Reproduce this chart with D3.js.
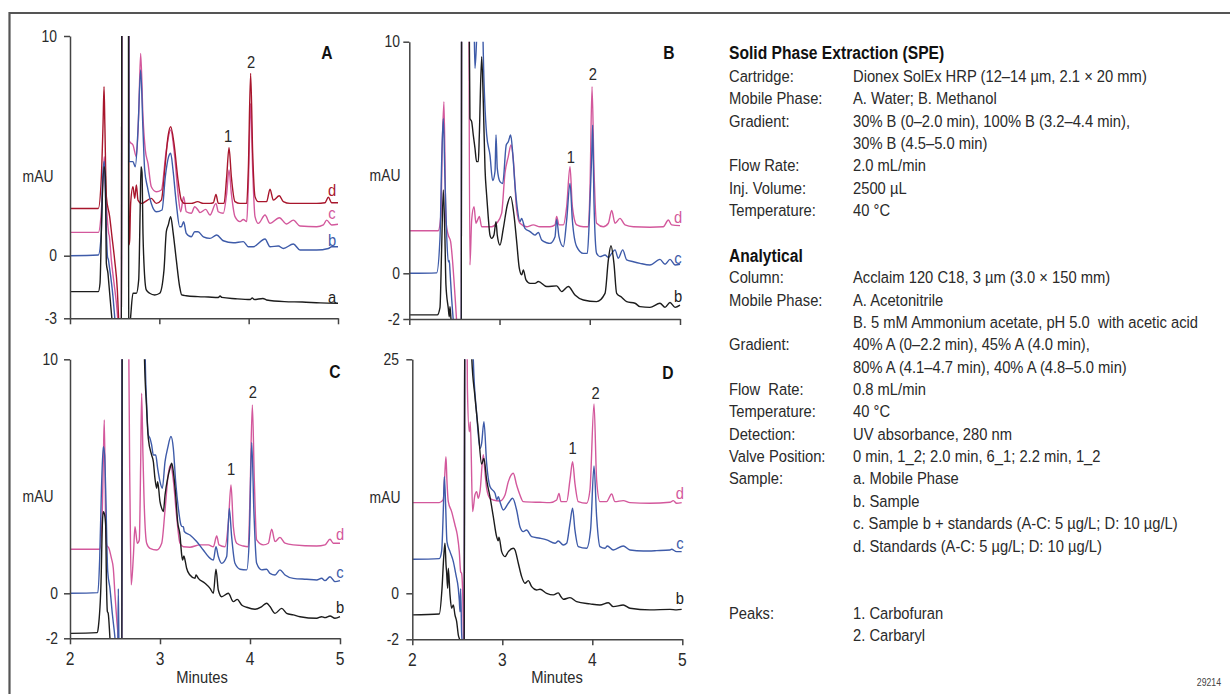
<!DOCTYPE html>
<html><head><meta charset="utf-8">
<script src="https://cdn.jsdelivr.net/npm/d3@7"></script>
<style>
body{margin:0;background:#fff;}
svg{display:block;font-family:"Liberation Sans",Arial,sans-serif;}
</style></head><body>
<svg id="chart" width="1230" height="694"></svg>
<script>
// ---------------- DATA (time in min, absorbance in mAU) ----------------
const xTicks = [2, 3, 4, 5];
const yTicksA = [-3, 0, 10];
const yTicksB = [-2, 0, 10];
const yTicksC = [-2, 0, 10];
const yTicksD = [-2, 0, 25];

// Panel A: a = mobile phase, b = sample, c = sample + standards, d = standards
const A_a = [[2.0,-1.72],[2.317,-1.72],[2.336,-1.32],[2.354,1.62],[2.381,4.05],[2.396,3.60],[2.407,-0.37],[2.425,-0.85],[2.433,-1.24],[2.444,-1.80],[2.47,-3.08],[2.50,-4.5],[2.575,-8],[2.585,40],[2.65,40],[2.658,-6],[2.668,-3.5],[2.679,-2.92],[2.705,-1.80],[2.743,-1.80],[2.769,-1.16],[2.785,2.0],[2.795,4.05],[2.806,3.8],[2.817,1.0],[2.828,-0.37],[2.854,-1.64],[2.892,-1.80],[2.948,-1.88],[3.004,-1.80],[3.052,-0.69],[3.078,1.09],[3.10,1.40],[3.127,1.78],[3.153,1.10],[3.19,-0.2],[3.228,-1.5],[3.25,-1.88],[3.30,-1.92],[3.433,-1.96],[3.55,-1.98],[3.66,-2.0],[3.68,-1.93],[3.70,-2.0],[3.85,-2.06],[4.02,-2.1],[4.04,-2.02],[4.06,-2.1],[4.16,-2.05],[4.2,-2.12],[4.4,-2.2],[4.6,-2.22],[4.8,-2.26],[5.0,-2.28]];
const A_b = [[2.0,0],[2.317,0.03],[2.35,1.0],[2.365,3.5],[2.384,4.3],[2.395,3.0],[2.407,1.17],[2.42,-0.05],[2.43,-0.2],[2.44,-0.5],[2.481,-1.96],[2.50,-2.92],[2.53,-4.5],[2.575,-8],[2.585,40],[2.65,40],[2.66,4.3],[2.668,4.28],[2.705,4.28],[2.731,4.05],[2.761,5.72],[2.791,8.45],[2.817,5.72],[2.836,3.90],[2.866,3.14],[2.91,2.38],[2.966,2.0],[3.03,2.08],[3.067,3.60],[3.104,4.51],[3.127,4.66],[3.153,3.90],[3.19,2.38],[3.228,1.32],[3.246,1.32],[3.272,1.55],[3.302,1.02],[3.358,0.86],[3.396,1.09],[3.433,1.09],[3.493,0.86],[3.567,0.79],[3.642,0.94],[3.716,0.68],[3.828,0.59],[3.94,0.64],[3.996,0.41],[4.052,0.41],[4.183,0.76],[4.239,0.41],[4.332,0.44],[4.388,0.33],[4.50,0.53],[4.575,0.26],[4.761,0.26],[4.892,0.33],[4.929,0.41],[5.0,0.41]];
const A_c = [[2.0,1.06],[2.317,1.06],[2.35,2.0],[2.37,3.5],[2.384,4.51],[2.395,3.3],[2.407,2.38],[2.425,1.3],[2.433,1.02],[2.44,0.9],[2.463,-0.21],[2.493,-1.32],[2.53,-2.76],[2.56,-5],[2.575,-8],[2.585,40],[2.65,40],[2.66,5.3],[2.668,5.19],[2.705,5.04],[2.743,4.51],[2.769,6.48],[2.791,9.21],[2.817,6.33],[2.843,4.81],[2.873,4.20],[2.91,3.14],[2.966,2.91],[3.022,2.99],[3.078,4.81],[3.127,5.72],[3.172,4.51],[3.209,2.84],[3.239,2.0],[3.272,2.69],[3.302,2.0],[3.358,1.93],[3.396,2.23],[3.433,2.08],[3.455,1.96],[3.519,2.11],[3.567,1.85],[3.634,2.38],[3.66,2.0],[3.716,1.93],[3.754,2.84],[3.78,3.90],[3.806,2.84],[3.847,1.78],[3.903,1.55],[3.94,1.65],[3.978,1.55],[3.996,3.14],[4.022,6.93],[4.045,3.90],[4.071,1.78],[4.108,1.47],[4.183,1.85],[4.239,1.47],[4.343,1.73],[4.425,1.44],[4.50,1.62],[4.575,1.35],[4.761,1.32],[4.836,1.40],[4.873,1.62],[4.929,1.40],[5.0,1.43]];
const A_d = [[2.0,2.15],[2.317,2.15],[2.35,3.5],[2.37,6.0],[2.381,7.69],[2.39,6.0],[2.407,2.69],[2.444,1.78],[2.47,0.86],[2.50,-0.21],[2.53,-1.64],[2.545,-3.08],[2.56,-5],[2.575,-8],[2.585,40],[2.65,40],[2.66,0.5],[2.668,0.71],[2.679,2.38],[2.705,3.14],[2.724,2.61],[2.743,3.22],[2.761,2.53],[2.80,2.38],[2.91,2.61],[2.966,2.38],[3.022,2.53],[3.067,4.20],[3.097,5.42],[3.127,5.87],[3.164,5.11],[3.209,3.45],[3.246,2.53],[3.284,2.38],[3.358,2.38],[3.429,2.46],[3.493,2.38],[3.567,2.38],[3.604,2.41],[3.634,2.79],[3.66,2.38],[3.724,2.38],[3.754,3.60],[3.78,4.92],[3.806,3.60],[3.847,2.46],[3.903,2.38],[3.978,2.38],[3.996,3.90],[4.022,8.30],[4.045,4.66],[4.071,2.69],[4.108,2.46],[4.201,2.46],[4.239,3.03],[4.276,2.53],[4.343,2.73],[4.388,2.46],[4.463,2.38],[4.761,2.38],[4.854,2.41],[4.892,2.66],[4.929,2.41],[5.0,2.41]];

// Panel B
const B_b = [[2.0,-1.82],[2.31,-1.82],[2.34,-1.5],[2.358,1.0],[2.377,3.60],[2.395,1.5],[2.406,-0.5],[2.432,-1.53],[2.443,-1.9],[2.451,-1.46],[2.46,-1.9],[2.469,-2.4],[2.50,-4],[2.575,-8],[2.585,40],[2.655,40],[2.665,10.5],[2.672,6.69],[2.691,6.55],[2.709,5.97],[2.728,5.40],[2.746,4.82],[2.765,4.82],[2.776,5.97],[2.802,9.35],[2.82,7.41],[2.839,4.53],[2.857,3.38],[2.876,2.37],[2.894,1.65],[2.913,1.51],[2.938,1.65],[2.961,2.23],[2.975,1.65],[3.005,1.22],[3.042,1.94],[3.086,2.95],[3.123,3.31],[3.16,2.52],[3.19,1.37],[3.219,0.22],[3.245,-0.07],[3.264,0.14],[3.293,-0.29],[3.338,-0.44],[3.393,-0.44],[3.43,-0.36],[3.522,-0.58],[3.633,-0.55],[3.688,-0.80],[3.762,-0.58],[3.836,-0.95],[3.929,-1.17],[4.076,-1.24],[4.169,-0.88],[4.206,0.58],[4.235,1.19],[4.268,0.43],[4.298,-0.88],[4.353,-1.05],[4.409,-1.24],[4.501,-1.31],[4.557,-1.46],[4.667,-1.49],[4.778,-1.31],[4.834,-1.49],[4.889,-1.28],[4.945,-1.49],[5.0,-1.39]];
const B_c = [[2.0,0],[2.303,0.02],[2.34,1.5],[2.36,5.0],[2.377,6.69],[2.395,4.10],[2.414,1.65],[2.432,0.5],[2.443,0.55],[2.451,0.1],[2.469,-1.09],[2.488,-2.1],[2.52,-4],[2.575,-8],[2.585,40],[2.71,40],[2.72,10.5],[2.728,8.85],[2.75,10.5],[2.765,12],[2.80,12],[2.815,10.5],[2.82,9.5],[2.857,6.0],[2.894,5.1],[2.924,4.0],[2.95,4.4],[2.961,5.97],[2.975,4.53],[3.005,3.96],[3.035,3.88],[3.075,5.55],[3.097,5.68],[3.123,5.97],[3.145,5.25],[3.171,3.82],[3.197,2.81],[3.227,2.23],[3.245,2.37],[3.282,1.94],[3.338,1.80],[3.393,1.65],[3.43,1.76],[3.467,1.44],[3.522,1.32],[3.559,1.29],[3.615,1.58],[3.633,2.33],[3.659,1.58],[3.707,1.15],[3.744,2.30],[3.781,3.88],[3.807,2.30],[3.855,1.15],[3.929,0.86],[3.973,0.86],[3.995,2.30],[4.021,5.0],[4.032,6.40],[4.047,3.02],[4.076,0.86],[4.113,0.72],[4.169,0.79],[4.206,0.69],[4.243,0.86],[4.28,1.01],[4.316,0.65],[4.365,1.01],[4.409,0.58],[4.483,0.50],[4.557,0.43],[4.667,0.36],[4.778,0.60],[4.834,0.39],[4.889,0.60],[4.945,0.36],[5.0,0.39]];
const B_d = [[2.0,1.84],[2.32,1.84],[2.35,2.5],[2.365,5.5],[2.384,7.41],[2.406,2.23],[2.432,1.65],[2.458,1.37],[2.48,0.50],[2.506,-0.95],[2.525,-2.12],[2.55,-4],[2.575,-8],[2.585,40],[2.655,40],[2.662,10.5],[2.672,0.36],[2.691,2.30],[2.717,2.88],[2.739,2.16],[2.757,2.30],[2.776,2.45],[2.802,2.01],[2.857,2.01],[2.913,2.01],[2.968,2.16],[3.023,2.59],[3.06,4.32],[3.097,5.04],[3.127,5.54],[3.153,4.89],[3.19,2.73],[3.227,2.16],[3.30,2.01],[3.374,2.09],[3.448,2.01],[3.559,2.01],[3.615,2.09],[3.633,2.45],[3.659,2.09],[3.707,2.09],[3.744,2.88],[3.781,4.60],[3.807,2.88],[3.855,2.09],[3.929,2.01],[3.984,2.01],[4.003,3.74],[4.025,8.06],[4.047,4.46],[4.076,2.16],[4.15,2.01],[4.206,2.16],[4.243,2.71],[4.28,2.16],[4.335,2.37],[4.39,2.09],[4.483,2.01],[4.667,1.99],[4.815,2.01],[4.871,2.30],[4.908,2.09],[5.0,2.06]];

// Panel C
const C_b = [[2.0,-1.78],[2.30,-1.75],[2.315,-1.5],[2.345,0.5],[2.36,3.0],[2.37,3.49],[2.385,3.35],[2.396,2.92],[2.405,0.5],[2.415,-0.8],[2.425,-0.9],[2.444,-2.0],[2.46,-3],[2.50,-5],[2.575,-8],[2.585,40],[2.82,40],[2.826,10.3],[2.85,8.0],[2.87,6.62],[2.907,5.91],[2.926,5.63],[2.944,4.91],[2.963,4.49],[2.974,4.77],[3.0,3.92],[3.019,3.63],[3.037,3.49],[3.056,4.20],[3.085,4.91],[3.111,5.34],[3.13,5.56],[3.148,5.20],[3.174,4.20],[3.196,3.06],[3.222,2.49],[3.241,1.64],[3.252,1.42],[3.265,1.6],[3.278,1.42],[3.296,1.07],[3.333,0.78],[3.389,0.64],[3.40,0.78],[3.426,0.64],[3.50,0.43],[3.556,0.21],[3.593,0.0],[3.622,1.03],[3.648,0.14],[3.685,-0.15],[3.759,0.0],[3.815,-0.37],[3.859,-0.27],[3.907,-0.52],[3.963,-0.62],[4.056,-0.71],[4.13,-0.59],[4.185,-0.44],[4.222,-0.59],[4.278,-0.89],[4.352,-0.67],[4.407,-0.89],[4.481,-0.96],[4.556,-1.04],[4.741,-1.11],[4.796,-1.04],[4.833,-1.08],[4.889,-1.01],[4.944,-1.11],[5.0,-1.04]];
const C_c = [[2.0,0],[2.31,0.03],[2.33,1.5],[2.35,4.5],[2.37,6.27],[2.385,5.9],[2.396,4.49],[2.419,0.93],[2.444,0.21],[2.47,-0.9],[2.50,-2.0],[2.52,-3],[2.53,-3],[2.537,0.2],[2.545,-3],[2.575,-8],[2.585,40],[2.82,40],[2.835,10.3],[2.852,8.05],[2.87,6.77],[2.889,6.62],[2.907,6.34],[2.926,5.91],[2.952,5.91],[2.974,5.34],[3.0,4.77],[3.026,4.49],[3.056,5.63],[3.085,6.20],[3.122,6.70],[3.148,6.20],[3.174,4.77],[3.204,3.63],[3.233,2.92],[3.248,2.85],[3.26,2.85],[3.27,2.64],[3.333,2.49],[3.407,2.21],[3.481,1.85],[3.537,1.57],[3.593,1.42],[3.622,1.99],[3.648,1.57],[3.685,1.28],[3.741,1.57],[3.77,3.63],[3.796,2.42],[3.833,1.28],[3.889,1.03],[3.963,1.0],[3.993,2.42],[4.019,6.45],[4.044,3.42],[4.074,1.28],[4.13,1.0],[4.185,1.03],[4.222,0.85],[4.278,0.78],[4.333,1.0],[4.389,0.78],[4.481,0.64],[4.63,0.60],[4.741,0.57],[4.796,0.64],[4.833,0.54],[4.889,0.71],[4.944,0.50],[5.0,0.54]];
const C_d = [[2.0,1.88],[2.33,1.88],[2.355,3.0],[2.372,6.0],[2.381,7.41],[2.396,3.06],[2.407,2.07],[2.433,1.92],[2.46,1.5],[2.481,1.07],[2.50,-0.07],[2.52,-1.2],[2.537,-2.1],[2.56,-5],[2.575,-8],[2.585,40],[2.645,40],[2.652,11],[2.667,4],[2.68,0.36],[2.704,1.57],[2.722,2.85],[2.748,2.14],[2.77,2.28],[2.785,5.5],[2.796,8.55],[2.81,6.0],[2.822,4.13],[2.852,2.14],[2.889,1.92],[2.963,1.85],[3.019,2.14],[3.056,3.56],[3.093,5.13],[3.119,5.48],[3.148,4.84],[3.185,3.28],[3.222,2.14],[3.259,1.99],[3.333,1.97],[3.444,2.07],[3.537,2.07],[3.593,1.99],[3.63,2.45],[3.656,2.07],[3.722,1.99],[3.759,2.99],[3.789,4.63],[3.815,2.85],[3.852,2.14],[3.926,2.02],[3.981,1.99],[4.0,4.13],[4.026,8.05],[4.048,4.84],[4.074,2.28],[4.148,2.07],[4.204,2.14],[4.241,2.74],[4.278,2.21],[4.333,2.39],[4.389,2.14],[4.481,2.07],[4.741,2.02],[4.833,2.07],[4.889,2.31],[4.926,2.14],[5.0,2.14]];

// Panel D
const D_b = [[2.0,-0.94],[2.30,-0.90],[2.33,0.5],[2.35,4.0],[2.363,5.34],[2.375,3.0],[2.381,2.31],[2.393,0.53],[2.40,2.67],[2.419,-0.07],[2.437,-0.65],[2.456,-0.51],[2.474,-0.94],[2.493,-1.23],[2.511,-1.81],[2.53,-2.1],[2.55,-3],[2.575,-6],[2.585,40],[2.655,40],[2.659,25.5],[2.696,21.01],[2.733,17.45],[2.77,13.8],[2.796,14.42],[2.826,12.11],[2.863,10.33],[2.90,8.19],[2.937,6.05],[2.955,5.6],[2.963,6.0],[2.993,4.45],[3.03,3.92],[3.067,4.45],[3.122,4.81],[3.141,4.63],[3.178,3.21],[3.215,1.78],[3.252,1.07],[3.289,1.35],[3.326,0.71],[3.381,0.36],[3.419,0.43],[3.493,0.0],[3.567,-0.07],[3.622,0.05],[3.65,-0.14],[3.678,-0.26],[3.752,-0.19],[3.826,-0.36],[3.974,-0.46],[4.085,-0.51],[4.178,-0.41],[4.233,-0.58],[4.344,-0.51],[4.419,-0.65],[4.641,-0.72],[4.863,-0.70],[4.937,-0.72],[4.993,-0.70]];
const D_c = [[2.0,3.63],[2.30,3.70],[2.326,4.5],[2.345,9.0],[2.356,12.46],[2.37,9.5],[2.385,5.52],[2.419,4.45],[2.456,3.38],[2.485,1.96],[2.511,0.53],[2.522,-0.3],[2.53,-0.8],[2.537,0.5],[2.548,-1.7],[2.56,-2.5],[2.575,-6],[2.585,40],[2.665,40],[2.678,24.93],[2.715,19.23],[2.752,15.49],[2.77,16.0],[2.796,18.34],[2.826,13.89],[2.863,11.40],[2.919,10.68],[2.94,10.0],[2.956,10.33],[2.974,9.79],[3.011,8.90],[3.067,9.62],[3.115,10.15],[3.159,8.90],[3.196,7.12],[3.233,6.59],[3.27,6.77],[3.326,6.05],[3.419,5.88],[3.493,5.70],[3.585,5.34],[3.622,5.59],[3.678,5.16],[3.715,5.34],[3.752,7.48],[3.781,9.08],[3.807,6.77],[3.844,4.99],[3.937,4.81],[3.981,6.77],[4.019,13.60],[4.048,8.19],[4.085,4.99],[4.141,4.81],[4.167,5.06],[4.233,4.63],[4.344,5.06],[4.419,4.63],[4.567,4.52],[4.715,4.56],[4.863,4.63],[4.881,4.70],[4.937,4.45],[4.993,4.45]];
const D_d = [[2.0,9.69],[2.30,9.69],[2.344,10.0],[2.36,12.5],[2.374,14.60],[2.385,12.0],[2.40,9.79],[2.437,8.73],[2.474,7.30],[2.50,6.23],[2.522,4.45],[2.537,2.3],[2.548,2.14],[2.56,0],[2.575,-3],[2.585,40],[2.60,40],[2.612,22],[2.633,17.27],[2.645,18.3],[2.67,8.73],[2.696,10.51],[2.715,10.86],[2.733,10.15],[2.752,10.86],[2.789,14.8],[2.807,13.0],[2.826,11.22],[2.863,10.15],[2.9,9.97],[2.974,9.86],[3.03,10.51],[3.067,11.93],[3.122,12.82],[3.159,11.57],[3.196,10.51],[3.233,9.79],[3.419,9.72],[3.53,9.69],[3.604,9.97],[3.63,10.68],[3.652,9.79],[3.715,9.79],[3.752,12.11],[3.781,14.07],[3.807,11.75],[3.844,9.79],[3.937,9.62],[3.974,11.04],[4.019,20.23],[4.048,12.11],[4.085,9.79],[4.159,9.79],[4.215,10.61],[4.252,9.79],[4.344,9.90],[4.419,9.69],[4.641,9.62],[4.863,9.72],[4.9,9.90],[4.937,9.62],[4.993,9.69]];

// trace-end letters and peak numbers (data coordinates)
const A_traceLabels = [["d",4.933,2.99],["c",4.933,1.94],["b",4.933,0.71],["a",4.933,-1.98]];
const B_traceLabels = [["d",4.978,2.43],["c",4.978,0.66],["b",4.978,-0.99]];
const C_traceLabels = [["d",5.0,2.53],["c",5.0,0.91],["b",5.0,-0.61]];
const D_traceLabels = [["d",4.974,10.72],["c",4.974,5.37],["b",4.974,-0.20]];
const A_peakLabels = [["1",3.769,5.45],["2",4.026,8.80]];
const B_peakLabels = [["1",3.789,5.03],["2",4.033,8.59]];
const C_peakLabels = [["1",3.789,5.31],["2",4.033,8.60]];
const D_peakLabels = [["1",3.782,15.49],["2",4.038,21.37]];

const specSPE = [
  ["Cartridge:", "Dionex SolEx HRP (12\u201314 \u00b5m, 2.1 \u00d7 20 mm)"],
  ["Mobile Phase:", "A. Water; B. Methanol"],
  ["Gradient:", "30% B (0\u20132.0 min), 100% B (3.2\u20134.4 min),"],
  ["", "30% B (4.5\u20135.0 min)"],
  ["Flow Rate:", "2.0 mL/min"],
  ["Inj. Volume:", "2500 \u00b5L"],
  ["Temperature:", "40 \u00b0C"]
];
const specAnalytical = [
  ["Column:", "Acclaim 120 C18, 3 \u00b5m (3.0 \u00d7 150 mm)"],
  ["Mobile Phase:", "A. Acetonitrile"],
  ["", "B. 5 mM Ammonium acetate, pH 5.0  with acetic acid"],
  ["Gradient:", "40% A (0\u20132.2 min), 45% A (4.0 min),"],
  ["", "80% A (4.1\u20134.7 min), 40% A (4.8\u20135.0 min)"],
  ["Flow  Rate:", "0.8 mL/min"],
  ["Temperature:", "40 \u00b0C"],
  ["Detection:", "UV absorbance, 280 nm"],
  ["Valve Position:", "0 min, 1_2; 2.0 min, 6_1; 2.2 min, 1_2"],
  ["Sample:", "a. Mobile Phase"],
  ["", "b. Sample"],
  ["", "c. Sample b + standards (A-C: 5 \u00b5g/L; D: 10 \u00b5g/L)"],
  ["", "d. Standards (A-C: 5 \u00b5g/L; D: 10 \u00b5g/L)"]
];
const specPeaks = [["Peaks:", "1. Carbofuran"], ["", "2. Carbaryl"]];

// ---------------- STYLE / LAYOUT ----------------
const C_BLACK = "#1c1c1c", C_BLUE = "#3e5ba9", C_PINK = "#d3589c", C_RED = "#a8162c";
const AXIS = "#444", TEXT = "#2a2a2a";

const svg = d3.select("#chart");
svg.append("rect").attr("width",1230).attr("height",694).attr("fill","#fff");

// horizontal condensing factor (to mimic a condensed face) measured from a reference string
const probe = svg.append("text").attr("font-size",17).attr("x",-2000).attr("y",-100)
  .text("Dionex SolEx HRP (12\u201314 \u00b5m, 2.1 \u00d7 20 mm)");
const SX = Math.min(1, 294 / probe.node().getComputedTextLength());
probe.remove();

function ctext(parent, x, y, str, o = {}) {
  const t = parent.append("text")
    .attr("transform", `translate(${x},${y}) scale(${SX},1)`)
    .attr("font-size", o.size || 17)
    .attr("fill", o.fill || TEXT)
    .attr("text-anchor", o.anchor || "start")
    .style("white-space", "pre")
    .text(str);
  if (o.weight) t.attr("font-weight", o.weight);
  if (o.dy) t.attr("dy", o.dy);
  return t;
}

// frame
svg.append("path").attr("d","M9.5,694V13H1230").attr("fill","none").attr("stroke","#555").attr("stroke-width",2.2);

const panels = [
  {name:"A", x0:70, x1:338, yDom:[-3,0,10], yRng:[318.3,255.7,36], yTicks:yTicksA, lx:57, xLab:false,
   letter:[327,53], mau:[38,176], minutes:null,
   traces:[[A_c,C_PINK],[A_d,C_RED],[A_b,C_BLUE],[A_a,C_BLACK]],
   tl:A_traceLabels, tlc:{a:C_BLACK,b:C_BLUE,c:C_PINK,d:C_RED}, pl:A_peakLabels},
  {name:"B", x0:409.3, x1:680, yDom:[-2,0,10], yRng:[319,273.3,41.7], yTicks:yTicksB, lx:400, xLab:false,
   letter:[669,53], mau:[385,175], minutes:null,
   traces:[[B_d,C_PINK],[B_c,C_BLUE],[B_b,C_BLACK]],
   tl:B_traceLabels, tlc:{b:C_BLACK,c:C_BLUE,d:C_PINK}, pl:B_peakLabels},
  {name:"C", x0:70, x1:340, yDom:[-2,0,10], yRng:[638.3,593.3,359.3], yTicks:yTicksC, lx:58, xLab:true,
   letter:[335,372], mau:[38,496], minutes:[202,677],
   traces:[[C_d,C_PINK],[C_c,C_BLUE],[C_b,C_BLACK]],
   tl:C_traceLabels, tlc:{b:C_BLACK,c:C_BLUE,d:C_PINK}, pl:C_peakLabels},
  {name:"D", x0:412.3, x1:682.3, yDom:[-2,0,25], yRng:[639.3,593.3,359.3], yTicks:yTicksD, lx:399, xLab:true,
   letter:[668,373], mau:[385,497], minutes:[557,677],
   traces:[[D_d,C_PINK],[D_c,C_BLUE],[D_b,C_BLACK]],
   tl:D_traceLabels, tlc:{b:C_BLACK,c:C_BLUE,d:C_PINK}, pl:D_peakLabels}
];

const defs = svg.append("defs");

panels.forEach((p,i) => {
  const x = d3.scaleLinear().domain([2,5]).range([p.x0,p.x1]);
  const y = d3.scaleLinear().domain(p.yDom).range(p.yRng);
  const yTop = p.yRng[2], yBot = p.yRng[0];
  const g = svg.append("g");

  defs.append("clipPath").attr("id","clip"+i).append("rect")
    .attr("x",p.x0).attr("y",yTop).attr("width",p.x1-p.x0+3).attr("height",yBot-yTop);

  const line = d3.line().x(d=>x(d[0])).y(d=>y(d[1])).curve(d3.curveMonotoneX);
  const tg = g.append("g").attr("clip-path",`url(#clip${i})`);
  p.traces.forEach(([data,col]) => {
    tg.append("path").datum(data).attr("d",line).attr("fill","none")
      .attr("stroke",col).attr("stroke-width",1.4).attr("stroke-linejoin","round");
  });

  const ya = g.append("g").attr("transform",`translate(${p.x0},0)`)
    .call(d3.axisLeft(y).tickValues(p.yTicks).tickSize(6).tickSizeOuter(0).tickFormat(()=>""));
  const xa = g.append("g").attr("transform",`translate(0,${yBot})`)
    .call(d3.axisBottom(x).tickValues(xTicks).tickSize(6).tickSizeOuter(0).tickFormat(()=>""));
  [ya,xa].forEach(a => {
    a.select(".domain").attr("stroke",AXIS).attr("stroke-width",1.5);
    a.selectAll(".tick line").attr("stroke",AXIS).attr("stroke-width",1.5);
  });
  p.yTicks.forEach(v => ctext(g, p.lx, y(v), String(v), {size:16, anchor:"end", dy:"0.36em"}));
  if (p.xLab) xTicks.forEach(v => ctext(g, x(v), yBot + 20, String(v), {size:18, anchor:"middle", dy:"0.36em"}));

  ctext(g, p.letter[0], p.letter[1], p.name, {size:18, anchor:"middle", weight:"bold", fill:"#111", dy:"0.36em"});
  ctext(g, p.mau[0], p.mau[1], "mAU", {size:16, anchor:"middle", dy:"0.36em"});
  if (p.minutes) ctext(g, p.minutes[0], p.minutes[1], "Minutes", {size:17, anchor:"middle", dy:"0.36em"});

  p.tl.forEach(([t,tx,ty]) => ctext(g, x(tx), y(ty), t, {size:17, anchor:"middle", fill:p.tlc[t], dy:"0.36em"}));
  p.pl.forEach(([t,tx,ty]) => ctext(g, x(tx), y(ty), t, {size:17, anchor:"middle", dy:"0.36em"}));
});

// ---------------- condition text ----------------
const LX = 729, VX = 853, LH = 22.36;
const info = svg.append("g");
const rowY = i => 76 + (i-1)*LH + 6;
function rows(list, startIdx){
  list.forEach((r,k) => {
    const yy = rowY(startIdx+k);
    if (r[0]) ctext(info, LX, yy, r[0]);
    ctext(info, VX, yy, r[1]);
  });
}
ctext(info, LX, 58.5, "Solid Phase Extraction (SPE)", {size:18, weight:"bold", fill:"#111"});
rows(specSPE, 1);
ctext(info, LX, 76 + 8*LH + 7.5, "Analytical", {size:18, weight:"bold", fill:"#111"});
rows(specAnalytical, 10);
rows(specPeaks, 25);

ctext(svg, 1221, 686, "29214", {size:10, anchor:"end", fill:"#444"});
</script>
</body></html>
